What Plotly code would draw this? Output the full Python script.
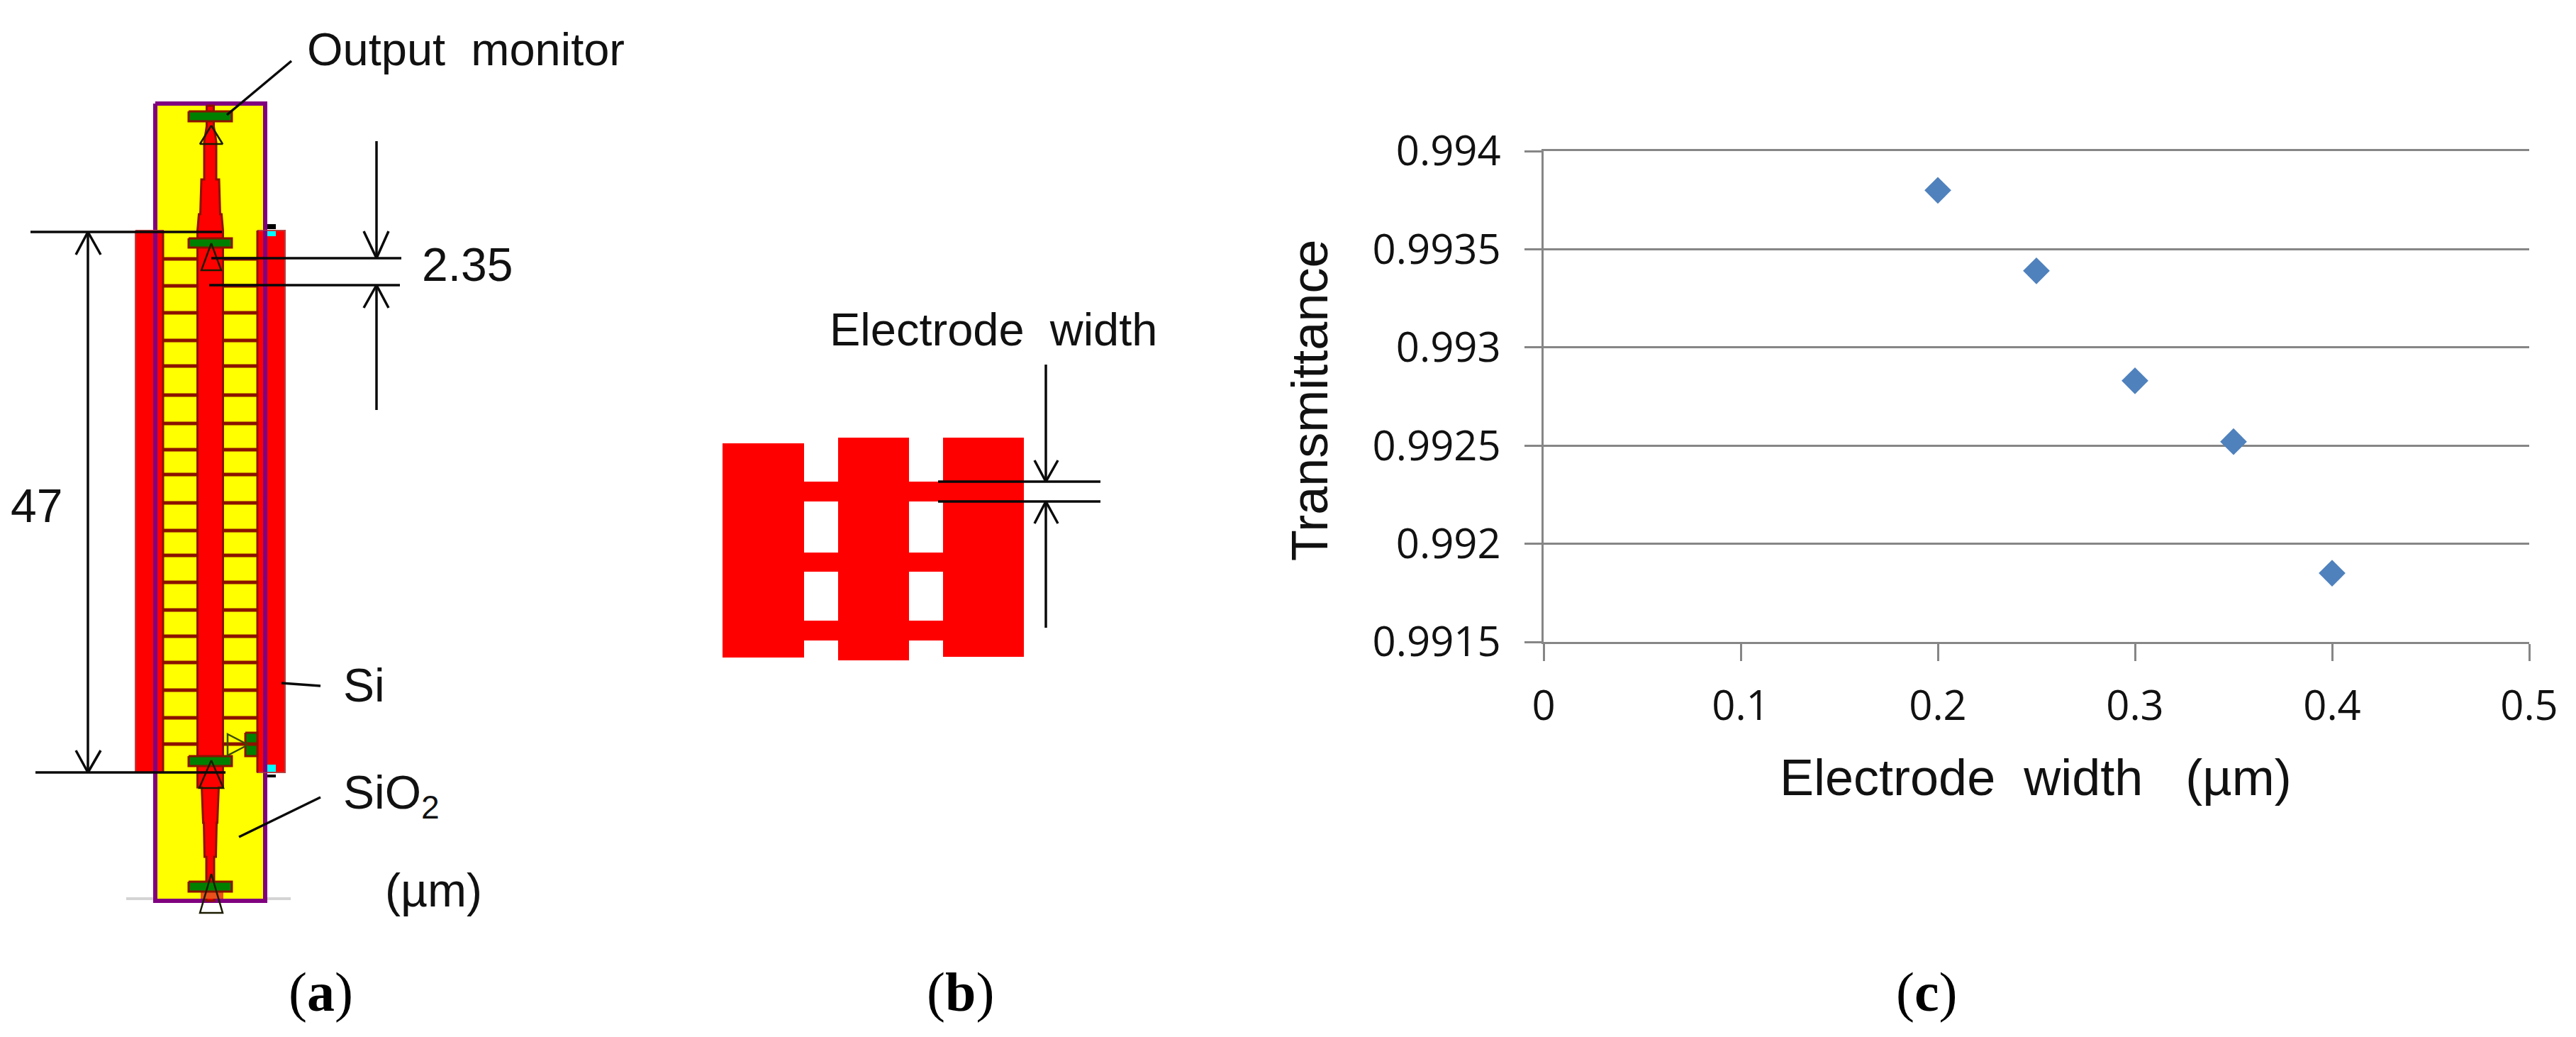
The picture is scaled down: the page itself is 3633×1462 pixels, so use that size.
import plotly.graph_objects as go

W, H = 3633, 1462
PAGE = 8  # the page's own margin around the plot

# chart (c) values
electrode_width = [0.2, 0.25, 0.3, 0.35, 0.4]
transmittance = [0.99380, 0.99339, 0.99283, 0.99252, 0.99185]
x_ticks = [0, 0.1, 0.2, 0.3, 0.4, 0.5]
x_labels = ["0", "0.1", "0.2", "0.3", "0.4", "0.5"]
y_ticks = [0.9915, 0.992, 0.9925, 0.993, 0.9935, 0.994]
y_labels = ["0.9915", "0.992", "0.9925", "0.993", "0.9935", "0.994"]

# sketch (a), in picture units
rung_y = [365, 403, 441, 480, 516, 557, 597, 634, 669, 709, 748, 783, 821, 860, 897, 934, 973, 1012, 1049]
guide_y = [149, 178, 200, 253, 253, 302, 302, 325, 1110, 1110, 1160, 1160, 1208, 1208, 1270]
guide_half = [5, 5, 8.5, 8.5, 12.5, 14, 16, 18, 18, 12, 10, 9, 8, 5.5, 5.5]
monitor_y = [(157, 171), (336, 349), (1066, 1080), (1243, 1257)]
triangles = [(298, 177, 203, 16), (298, 343, 381, 14), (298, 1072, 1111, 17), (298, 1232, 1287, 16)]

# sketch (b), in picture units
block_b = [(1019, 1134, 625, 927), (1182, 1282, 617, 931), (1330, 1444, 617, 926)]
rung_b = [(679, 707), (779, 806), (875, 903)]

RED = "#ff0000"
PURPLE = "#800080"
DARK = "#8b1200"
GREEN = "#008000"
GRID = "#868686"
BLACK = "#0a0a0a"

fig = go.Figure()


def box(x0, x1, y0, y1, fill, line=None, width=0):
    fig.add_trace(go.Scatter(x=[x0, x1, x1, x0, x0], y=[y0, y0, y1, y1, y0], mode="lines",
                             fill="toself", fillcolor=fill,
                             line=dict(color=line or fill, width=width),
                             hoverinfo="skip", showlegend=False))


def seg(xs, ys, color=BLACK, width=3.5):
    fig.add_trace(go.Scatter(x=xs, y=ys, mode="lines", line=dict(color=color, width=width),
                             hoverinfo="skip", showlegend=False))


# panel a
seg([178, 410], [1267, 1267], "#d4d4d4", 4)
box(219, 374, 146, 1270, "#ffff00", PURPLE, 6)
box(191, 230, 325, 1089, RED, "#b84040", 2)
box(363, 402, 325, 1089, RED, "#b84040", 2)
seg([219, 219], [325, 1089], PURPLE, 6)
seg([374, 374], [325, 1089], PURPLE, 6)
seg([230, 230], [325, 1089], DARK, 3)
seg([363, 363], [325, 1089], DARK, 3)
box(346, 363, 1033, 1066, GREEN, DARK, 3)
for y in rung_y:
    seg([230, 362], [y, y], DARK, 5)

cx = 296.5
left = [cx - h for h in guide_half]
right = [cx + h for h in guide_half]
fig.add_trace(go.Scatter(x=left + right[::-1] + left[:1], y=guide_y + guide_y[::-1] + guide_y[:1], mode="lines",
                         fill="toself", fillcolor=RED, line=dict(color=DARK, width=3),
                         hoverinfo="skip", showlegend=False))
box(283, 315, 1258, 1267, "#e8501c")
for y0, y1 in monitor_y:
    box(266, 327, y0, y1, GREEN, DARK, 3)
for tx, ty0, ty1, half in triangles:
    seg([tx, tx - half, tx + half, tx], [ty0, ty1, ty1, ty0], "#1c1c00", 2.5)
seg([350, 321, 321, 350], [1050, 1035, 1065, 1050], "#3a4a00", 2.5)

box(377, 389, 316, 323, "#000000")
box(377, 389, 326, 333, "#00ffff")
box(377, 389, 1078, 1088, "#00ffff")
box(377, 389, 1092, 1096, "#000000")

# leaders and dimensions of a
seg([411, 320], [86, 162])
seg([397, 452], [963, 967])
seg([337, 452], [1180, 1124])
seg([43, 313], [327, 327])
seg([50, 318], [1089, 1089])
seg([124, 124], [327, 1089])
seg([107, 124, 142], [359, 327, 359])
seg([107, 124, 142], [1058, 1089, 1058])
seg([298, 566], [364, 364])
seg([295, 564], [402, 402])
seg([531, 531], [199, 364])
seg([513, 531, 548], [326, 364, 326])
seg([531, 531], [578, 402])
seg([513, 531, 548], [434, 402, 434])

# panel b
for x0, x1, y0, y1 in block_b:
    box(x0, x1, y0, y1, RED)
for y0, y1 in rung_b:
    box(1134, 1330, y0, y1, RED)
seg([1323, 1552], [679, 679])
seg([1323, 1552], [707, 707])
seg([1475, 1475], [514, 679])
seg([1459, 1475, 1492], [649, 679, 649])
seg([1475, 1475], [885, 707])
seg([1459, 1475, 1492], [738, 707, 738])

# panel c
fig.add_trace(go.Scatter(x=electrode_width, y=transmittance, xaxis="x2", yaxis="y2", mode="markers",
                         marker=dict(symbol="diamond", size=29, color="#4f81bd"),
                         hoverinfo="skip", showlegend=False))

texts = [
    ("Output  monitor", 657, 69, 65),
    ("2.35", 659, 373, 66),
    ("47", 51, 713, 66),
    ("Si", 513, 966, 66),
    ("SiO<sub>2</sub>", 552, 1122, 66),
    ("(µm)", 611, 1255, 66),
    ("Electrode  width", 1401, 464, 65),
    ("Electrode  width   (µm)", 2871, 1096, 72),
]
annotations = [dict(text=t, x=x, y=y, xref="x", yref="y", showarrow=False,
                    font=dict(family="Liberation Sans", size=s, color="#111111"))
               for t, x, y, s in texts]
annotations.append(dict(text="Transmittance", x=1847, y=565, xref="x", yref="y", showarrow=False, textangle=-90,
                        font=dict(family="Liberation Sans", size=72, color="#111111")))
for t, x in [("(<b>a</b>)", 452), ("(<b>b</b>)", 1354), ("(<b>c</b>)", 2717)]:
    annotations.append(dict(text=t, x=x, y=1398, xref="x", yref="y", showarrow=False,
                            font=dict(family="Liberation Serif", size=78, color="#000000")))

pw, ph = W - 2 * PAGE, H - 2 * PAGE
fig.update_layout(
    width=pw, height=ph, autosize=False,
    margin=dict(l=0, r=0, t=0, b=0),
    paper_bgcolor="white", plot_bgcolor="white",
    showlegend=False,
    annotations=annotations,
    xaxis=dict(domain=[0, 1], range=[PAGE, W - PAGE], visible=False, fixedrange=True),
    yaxis=dict(domain=[0, 1], range=[H - PAGE, PAGE], visible=False, fixedrange=True),
    xaxis2=dict(domain=[(2177 - PAGE) / pw, (3567 - PAGE) / pw], anchor="y2", range=[0, 0.5], automargin=False,
                tickvals=x_ticks, ticktext=x_labels, ticks="outside", ticklen=24, tickwidth=2.5,
                tickcolor=GRID, showline=True, mirror=True, linecolor=GRID, linewidth=2.5, showgrid=False,
                zeroline=False, ticklabelstandoff=14,
                tickfont=dict(family="Open Sans", size=58, color="#111111")),
    yaxis2=dict(domain=[1 - (905 - PAGE) / ph, 1 - (213 - PAGE) / ph], anchor="x2", range=[0.9915, 0.994], automargin=False,
                tickvals=y_ticks, ticktext=y_labels, ticks="outside", ticklen=24, tickwidth=2.5,
                tickcolor=GRID, showline=True, linecolor=GRID, linewidth=2.5, showgrid=True,
                gridcolor=GRID, gridwidth=2.5, zeroline=False, ticklabelstandoff=22,
                tickfont=dict(family="Open Sans", size=58, color="#111111")),
)

fig.write_html("out.html")
